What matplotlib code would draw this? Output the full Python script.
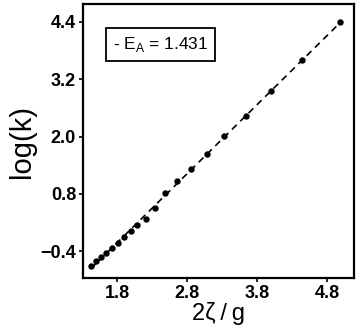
import matplotlib
matplotlib.use("Agg")
from matplotlib import pyplot as plt
import numpy as np

plt.rcParams['font.family'] = ['Liberation Sans', 'DejaVu Sans']

# data
x_vals = [1.424, 1.496, 1.567, 1.647, 1.724, 1.810, 1.904, 1.996, 2.090, 2.210,
          2.343, 2.486, 2.661, 2.853, 3.081, 3.333, 3.643, 4.000, 4.447, 4.990]
y_vals = [-0.714, -0.609, -0.526, -0.436, -0.337, -0.226, -0.113, 0.012, 0.138, 0.263,
          0.493, 0.824, 1.071, 1.322, 1.644, 2.006, 2.431, 2.954, 3.596, 4.405]
slope_label = "1.431"
x_ticks = [1.8, 2.8, 3.8, 4.8]
y_ticks = [-0.4, 0.8, 2.0, 3.2, 4.4]

fig = plt.figure(figsize=(3.58, 3.33), dpi=100)
ax = fig.add_axes([0.232, 0.165, 0.757, 0.823])

x = np.array(x_vals)
y = np.array(y_vals)
p = np.polyfit(x, y, 1)
xl = np.array([x.min(), x.max()])
ax.plot(xl, np.polyval(p, xl), color='black', ls=(0, (4, 3)), lw=1.2, zorder=2)
ax.plot(x, y, 'o', color='black', ms=3.6, zorder=3)

ax.set_xlim(1.314, 5.186)
ax.set_ylim(-0.965, 4.777)
ax.set_xticks(x_ticks)
ax.set_yticks(y_ticks)
ax.set_xticklabels(["%.1f" % v for v in x_ticks], fontsize=13, fontweight='bold')
ax.set_yticklabels(["\u22120.4" if v < 0 else "%.1f" % v for v in y_ticks], fontsize=13, fontweight='bold')
ax.tick_params(direction='out', length=3, width=1.2, pad=2)
for s in ax.spines.values():
    s.set_linewidth(1.6)

ax.set_xlabel("2\u03b6\u2009/\u2009g", fontsize=17, labelpad=0)
ax.set_ylabel("log(k)", fontsize=21, labelpad=3)

ax.text(0.11, 0.852, "- E$_\\mathregular{A}$ = " + slope_label, transform=ax.transAxes,
        fontsize=12.5, va='center', ha='left',
        bbox=dict(boxstyle='square,pad=0.4', fc='white', ec='black', lw=1.3))

fig.savefig("out.png", dpi=100)
plt.close()
